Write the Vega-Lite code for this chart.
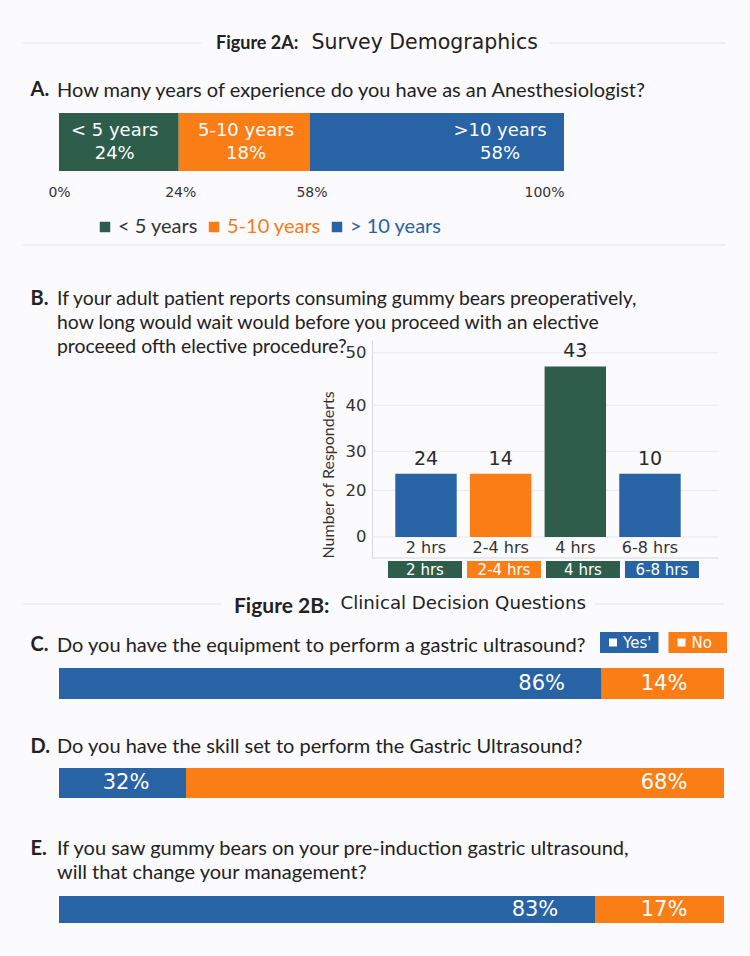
{
  "$schema": "https://vega.github.io/schema/vega-lite/v6.json",
  "background": "#fbfafc",
  "padding": {"left": 22, "top": 0, "right": 24, "bottom": 0},
  "config": {
    "view": {"stroke": null},
    "font": "Lato",
    "title": {"frame": "group", "anchor": "start", "color": "#222222", "font": "Lato", "fontWeight": "normal", "fontSize": 20, "lineHeight": 24},
    "axis": {"labelFont": "DejaVu Sans", "titleFont": "Lato"},
    "legend": {"labelFont": "Lato"}
  },
  "datasets": {
    "experience": [
      {"group": "< 5 years", "bar_label": "< 5 years", "pct": "24%", "start": 0, "end": 23.7},
      {"group": "5-10 years", "bar_label": "5-10 years", "pct": "18%", "start": 23.7, "end": 49.7},
      {"group": "> 10 years", "bar_label": ">10 years", "pct": "58%", "start": 49.7, "end": 100}
    ],
    "waits": [
      {"wait": "2 hrs", "respondents": 24.5, "label": "24"},
      {"wait": "2-4 hrs", "respondents": 24.5, "label": "14"},
      {"wait": "4 hrs", "respondents": 47.5, "label": "43"},
      {"wait": "6-8 hrs", "respondents": 24.5, "label": "10"}
    ],
    "ticks": [{"tick": -11.8}, {"tick": 0}, {"tick": 20}, {"tick": 30}, {"tick": 40}, {"tick": 50}],
    "equipment": [
      {"answer": "Yes", "start": 0, "end": 81.6, "label": "86%"},
      {"answer": "No", "start": 81.6, "end": 100, "label": "14%"}
    ],
    "skill": [
      {"answer": "Yes", "start": 0, "end": 19.1, "label": "32%"},
      {"answer": "No", "start": 19.1, "end": 100, "label": "68%"}
    ],
    "management": [
      {"answer": "Yes", "start": 0, "end": 80.6, "label": "83%"},
      {"answer": "No", "start": 80.6, "end": 100, "label": "17%"}
    ],
    "answers": [
      {"answer": "Yes", "key": "Yes'"},
      {"answer": "No", "key": "No"}
    ],
    "one": [{"k": 1}]
  },
  "spacing": 0,
  "bounds": "flush",
  "resolve": {"scale": {"x": "independent", "y": "independent", "color": "independent"}},
  "vconcat": [
    {"width": 1, "height": 42, "data": {"name": "one"}, "mark": {"type": "rect", "opacity": 0}, "encoding": {}},
    {
      "width": 665, "height": 2,
      "title": {"text": "Figure 2A:", "fontWeight": "bold", "fontSize": 18, "dx": 157, "offset": -21},
      "data": {"name": "one"},
      "layer": [
        {"mark": {"type": "rule", "color": "#e4e4e8"}, "encoding": {"x": {"datum": -5.41, "type": "quantitative", "scale": {"domain": [0, 100], "nice": false},
          "axis": {"domain": false, "labels": false, "ticks": false, "grid": false, "title": "Survey Demographics", "titleX": 252, "titleY": -2, "titleAlign": "left", "titleBaseline": "middle", "titleFont": "DejaVu Sans", "titleFontSize": 20.5, "titleFontWeight": "normal", "titleColor": "#222222"}}, "x2": {"datum": 21.35}}},
        {"mark": {"type": "rule", "color": "#e4e4e8"}, "encoding": {"x": {"datum": 73.7, "type": "quantitative"}, "x2": {"datum": 100.3}}}
      ]
    },
    {"width": 1, "height": 69, "data": {"name": "one"}, "mark": {"type": "rect", "opacity": 0}, "encoding": {}},
    {
      "width": 505, "height": 58,
      "title": {"text": "How many years of experience do you have as an Anesthesiologist?", "dx": -2, "offset": -22},
      "data": {"name": "experience"},
      "layer": [
        {"mark": {"type": "rect", "color": "#e8e8ec", "yOffset": 7}, "encoding": {"x": {"datum": 0, "type": "quantitative"}, "x2": {"datum": 100}}},
        {
          "mark": {"type": "rect"},
          "encoding": {
            "x": {"field": "start", "type": "quantitative", "scale": {"domain": [0, 100], "nice": false},
              "axis": {"values": [0, 24, 50, 100], "labelExpr": "datum.value == 50 ? '58%' : datum.value + '%'", "domain": false, "ticks": false, "grid": false, "labelPadding": 14, "labelFontSize": 14, "labelColor": "#333333",
                "labelAlign": {"condition": {"test": "datum.value == 100", "value": "right"}, "value": "center"},
                "title": "A.", "titleX": -29, "titleY": -82, "titleAlign": "left", "titleBaseline": "middle", "titleFont": "Lato", "titleFontSize": 20, "titleFontWeight": "bold", "titleColor": "#222222"}},
            "x2": {"field": "end"},
            "color": {"field": "group", "type": "nominal", "sort": null,
              "scale": {"domain": ["< 5 years", "5-10 years", "> 10 years"], "range": ["#2e5e4b", "#fb7d16", "#2863a5"]},
              "legend": {"orient": "none", "legendX": 36, "legendY": 104, "direction": "horizontal", "title": null, "symbolType": "square", "symbolSize": 110, "symbolStrokeWidth": 0, "labelFontSize": 20, "columnPadding": 6, "labelOffset": 3,
                "encode": {"labels": {"update": {"fill": {"signal": "datum.value == '5-10 years' ? '#f27b1c' : datum.value == '> 10 years' ? '#2863a5' : '#333333'"}}}}}}
          }
        },
        {"mark": {"type": "text", "font": "DejaVu Sans", "fontSize": 18, "color": "white", "dx": -64, "dy": -11, "align": "center", "baseline": "middle"}, "encoding": {"x": {"field": "end", "type": "quantitative"}, "text": {"field": "bar_label"}}},
        {"mark": {"type": "text", "font": "DejaVu Sans", "fontSize": 18, "color": "white", "dx": -64, "dy": 12, "align": "center", "baseline": "middle"}, "encoding": {"x": {"field": "end", "type": "quantitative"}, "text": {"field": "pct"}}}
      ]
    },
    {"width": 1, "height": 73, "data": {"name": "one"}, "mark": {"type": "rect", "opacity": 0}, "encoding": {}},
    {
      "width": 665, "height": 2,
      "data": {"name": "one"},
      "mark": {"type": "rule", "color": "#e4e4e8"},
      "encoding": {"x": {"datum": -5.41, "type": "quantitative", "scale": {"domain": [0, 100], "nice": false}, "axis": null}, "x2": {"datum": 100.3}}
    },
    {"width": 1, "height": 94, "data": {"name": "one"}, "mark": {"type": "rect", "opacity": 0}, "encoding": {}},
    {
      "width": 660, "height": 218,
      "title": {"text": ["If your adult patient reports consuming gummy bears preoperatively,", "how long would wait would before you proceed with an elective", "proceeed ofth elective procedure?"], "dx": -2, "offset": -69, "fontSize": 19.4},
      "layer": [
        {
          "data": {"name": "ticks"},
          "mark": {"type": "rule"},
          "encoding": {
            "x": {"datum": "2 hrs", "type": "nominal", "bandPosition": -0.379},
            "x2": {"datum": "6-8 hrs", "bandPosition": 1.62},
            "y": {"field": "tick", "type": "quantitative"},
            "color": {"condition": {"test": "datum.tick < -5", "value": "#d8d8da"}, "value": "#e9e9ea"}
          }
        },
        {
          "data": {"name": "waits"},
          "mark": {"type": "bar"},
          "encoding": {
            "x": {"field": "wait", "type": "nominal", "sort": null, "scale": {"domain": ["2 hrs", "2-4 hrs", "4 hrs", "6-8 hrs"], "range": [313, 660], "paddingInner": 0.177, "paddingOuter": 0.4125, "align": 0.378},
              "axis": {"ticks": false, "domain": false, "labelAngle": 0, "labelAlign": "center", "labelPadding": -11, "labelBaseline": "middle", "labelFontSize": 16, "labelColor": "#333333",
                "title": "B.", "titleX": -29, "titleY": -260, "titleAlign": "left", "titleBaseline": "middle", "titleFont": "Lato", "titleFontSize": 20, "titleFontWeight": "bold", "titleColor": "#222222"}},
            "y": {"field": "respondents", "type": "quantitative",
              "scale": {"type": "pow", "exponent": 1.5, "domain": [-11.8, 52.3], "nice": false, "zero": false},
              "axis": {"values": [0, 20, 30, 40, 50], "offset": -313, "grid": false, "title": "Number of Responderts", "titleAnchor": "start", "titleFontSize": 16, "titleFontWeight": "normal", "titleColor": "#333333", "titlePadding": 9, "labelFontSize": 16.5, "labelColor": "#333333", "labelPadding": 6, "ticks": false, "domainColor": "#d8d8da"}},
            "y2": {"datum": 0},
            "color": {"field": "wait", "type": "nominal", "sort": null, "scale": {"domain": ["2 hrs", "2-4 hrs", "4 hrs", "6-8 hrs"], "range": ["#2863a5", "#fb7d16", "#2e5e4b", "#2863a5"]}, "legend": null}
          }
        },
        {
          "data": {"name": "waits"},
          "mark": {"type": "text", "baseline": "bottom", "dy": -5, "font": "DejaVu Sans", "fontSize": 19, "color": "#2a2a2a"},
          "encoding": {"x": {"field": "wait", "type": "nominal", "sort": null}, "y": {"field": "respondents", "type": "quantitative"}, "text": {"field": "label"}}
        }
      ]
    },
    {"width": 1, "height": 3, "data": {"name": "one"}, "mark": {"type": "rect", "opacity": 0}, "encoding": {}},
    {
      "width": 660, "height": 17,
      "data": {"name": "waits"},
      "encoding": {"x": {"field": "wait", "type": "nominal", "sort": null, "scale": {"range": [313, 660], "paddingInner": 0.063, "paddingOuter": 0.228, "align": 0.444}, "axis": null}},
      "layer": [
        {"mark": {"type": "rect"}, "encoding": {"color": {"field": "wait", "type": "nominal", "sort": null, "scale": {"domain": ["2 hrs", "2-4 hrs", "4 hrs", "6-8 hrs"], "range": ["#2e5e4b", "#fb7d16", "#2e5e4b", "#2863a5"]}, "legend": null}}},
        {"mark": {"type": "text", "color": "white", "font": "DejaVu Sans", "fontSize": 15, "baseline": "middle"}, "encoding": {"text": {"field": "wait"}}}
      ]
    },
    {"width": 1, "height": 25, "data": {"name": "one"}, "mark": {"type": "rect", "opacity": 0}, "encoding": {}},
    {
      "width": 665, "height": 2,
      "title": {"text": "Figure 2B:", "fontWeight": "bold", "fontSize": 21, "dx": 175, "offset": -24},
      "data": {"name": "one"},
      "layer": [
        {"mark": {"type": "rule", "color": "#e4e4e8"}, "encoding": {"x": {"datum": -5.41, "type": "quantitative", "scale": {"domain": [0, 100], "nice": false},
          "axis": {"domain": false, "labels": false, "ticks": false, "grid": false, "title": "Clinical Decision Questions", "titleX": 281, "titleY": -2, "titleAlign": "left", "titleBaseline": "middle", "titleFont": "DejaVu Sans", "titleFontSize": 18.2, "titleFontWeight": "normal", "titleColor": "#222222"}}, "x2": {"datum": 24.5}}},
        {"mark": {"type": "rule", "color": "#e4e4e8"}, "encoding": {"x": {"datum": 80.5, "type": "quantitative"}, "x2": {"datum": 100}}}
      ]
    },
    {"width": 1, "height": 27, "data": {"name": "one"}, "mark": {"type": "rect", "opacity": 0}, "encoding": {}},
    {
      "width": 668, "height": 21,
      "data": {"name": "answers"},
      "encoding": {"x": {"field": "answer", "type": "nominal", "sort": null, "scale": {"range": [541, 668], "paddingInner": 0.146, "paddingOuter": 0}, "axis": null}},
      "layer": [
        {"mark": {"type": "rect"}, "encoding": {"color": {"field": "answer", "type": "nominal", "sort": null, "scale": {"domain": ["Yes", "No"], "range": ["#2863a5", "#fb7d16"]}, "legend": null}}},
        {"mark": {"type": "point", "shape": "square", "filled": true, "color": "white", "opacity": 1, "size": 64, "xOffset": 13}, "encoding": {"x": {"field": "answer", "type": "nominal", "bandPosition": 0}}},
        {"mark": {"type": "text", "color": "white", "font": "DejaVu Sans", "fontSize": 15, "align": "left", "baseline": "middle", "dx": 23}, "encoding": {"x": {"field": "answer", "type": "nominal", "bandPosition": 0}, "text": {"field": "key"}}}
      ]
    },
    {"width": 1, "height": 15, "data": {"name": "one"}, "mark": {"type": "rect", "opacity": 0}, "encoding": {}},
    {
      "width": 665, "height": 31,
      "title": {"text": "Do you have the equipment to perform a gastric ultrasound?", "dx": -2, "offset": -22},
      "data": {"name": "equipment"},
      "layer": [
        {"mark": {"type": "rect", "color": "#e8e8ec", "yOffset": 6}, "encoding": {"x": {"datum": 0, "type": "quantitative", "scale": {"domain": [0, 100], "nice": false},
          "axis": {"domain": false, "labels": false, "ticks": false, "grid": false, "title": "C.", "titleX": -29, "titleY": -55, "titleAlign": "left", "titleBaseline": "middle", "titleFont": "Lato", "titleFontSize": 20, "titleFontWeight": "bold", "titleColor": "#222222"}}, "x2": {"datum": 100}}},
        {"mark": {"type": "rect"}, "encoding": {"x": {"field": "start", "type": "quantitative"}, "x2": {"field": "end"}, "color": {"field": "answer", "type": "nominal", "sort": null, "scale": {"domain": ["Yes", "No"], "range": ["#2863a5", "#fb7d16"]}, "legend": null}}},
        {"mark": {"type": "text", "font": "DejaVu Sans", "fontSize": 21, "color": "white", "dx": -60, "align": "center", "baseline": "middle"}, "encoding": {"x": {"field": "end", "type": "quantitative"}, "text": {"field": "label"}}}
      ]
    },
    {"width": 1, "height": 69, "data": {"name": "one"}, "mark": {"type": "rect", "opacity": 0}, "encoding": {}},
    {
      "width": 665, "height": 30,
      "title": {"text": "Do you have the skill set to perform the Gastric Ultrasound?", "dx": -2, "offset": -21},
      "data": {"name": "skill"},
      "layer": [
        {"mark": {"type": "rect", "color": "#e8e8ec", "yOffset": 6}, "encoding": {"x": {"datum": 0, "type": "quantitative", "scale": {"domain": [0, 100], "nice": false},
          "axis": {"domain": false, "labels": false, "ticks": false, "grid": false, "title": "D.", "titleX": -29, "titleY": -52, "titleAlign": "left", "titleBaseline": "middle", "titleFont": "Lato", "titleFontSize": 20, "titleFontWeight": "bold", "titleColor": "#222222"}}, "x2": {"datum": 100}}},
        {"mark": {"type": "rect"}, "encoding": {"x": {"field": "start", "type": "quantitative"}, "x2": {"field": "end"}, "color": {"field": "answer", "type": "nominal", "sort": null, "scale": {"domain": ["Yes", "No"], "range": ["#2863a5", "#fb7d16"]}, "legend": null}}},
        {"mark": {"type": "text", "font": "DejaVu Sans", "fontSize": 21, "color": "white", "dx": -60, "align": "center", "baseline": "middle"}, "encoding": {"x": {"field": "end", "type": "quantitative"}, "text": {"field": "label"}}}
      ]
    },
    {"width": 1, "height": 98, "data": {"name": "one"}, "mark": {"type": "rect", "opacity": 0}, "encoding": {}},
    {
      "width": 665, "height": 27,
      "title": {"text": ["If you saw gummy bears on your pre-induction gastric ultrasound,", "will that change your management?"], "dx": -2, "offset": -45},
      "data": {"name": "management"},
      "layer": [
        {"mark": {"type": "rect", "color": "#e8e8ec", "yOffset": 6}, "encoding": {"x": {"datum": 0, "type": "quantitative", "scale": {"domain": [0, 100], "nice": false},
          "axis": {"domain": false, "labels": false, "ticks": false, "grid": false, "title": "E.", "titleX": -29, "titleY": -75, "titleAlign": "left", "titleBaseline": "middle", "titleFont": "Lato", "titleFontSize": 20, "titleFontWeight": "bold", "titleColor": "#222222"}}, "x2": {"datum": 100}}},
        {"mark": {"type": "rect"}, "encoding": {"x": {"field": "start", "type": "quantitative"}, "x2": {"field": "end"}, "color": {"field": "answer", "type": "nominal", "sort": null, "scale": {"domain": ["Yes", "No"], "range": ["#2863a5", "#fb7d16"]}, "legend": null}}},
        {"mark": {"type": "text", "font": "DejaVu Sans", "fontSize": 21, "color": "white", "dx": -60, "align": "center", "baseline": "middle"}, "encoding": {"x": {"field": "end", "type": "quantitative"}, "text": {"field": "label"}}}
      ]
    },
    {"width": 1, "height": 33, "data": {"name": "one"}, "mark": {"type": "rect", "opacity": 0}, "encoding": {}}
  ]
}
